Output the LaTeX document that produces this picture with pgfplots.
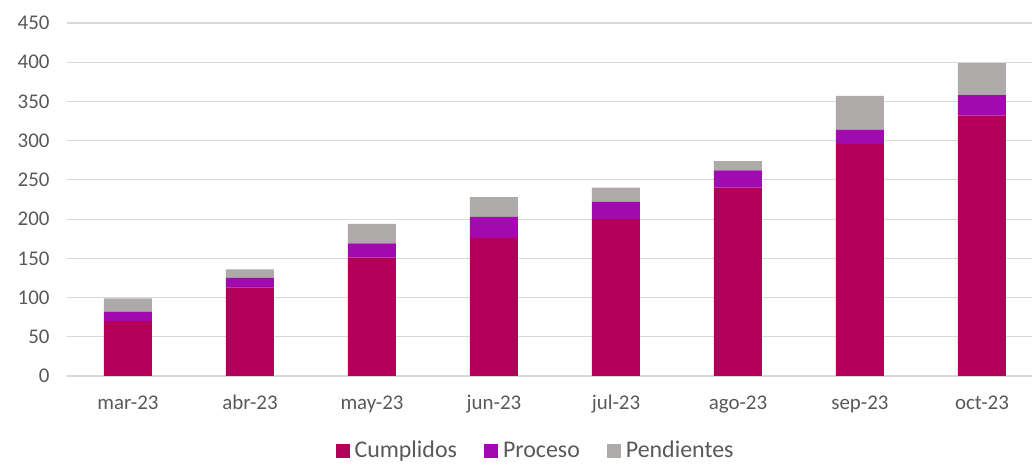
\documentclass[border=0pt]{standalone}
\usepackage{pgfplots}
\pgfplotsset{compat=1.18}
\usepackage{fontspec}
\setmainfont{Carlito}
\definecolor{cRed}{HTML}{B5005A}
\definecolor{cPur}{HTML}{A10AAE}
\definecolor{cGry}{HTML}{AEAAAA}
\definecolor{cTxt}{HTML}{595959}
\definecolor{cGrid}{HTML}{D9D9D9}
\begin{document}
\begin{tikzpicture}
\useasboundingbox (0,0) rectangle (1032bp,465bp);
\begin{axis}[
  at={(67bp,89bp)}, anchor=south west,
  scale only axis, width=965bp, height=353bp,
  ybar stacked, bar width=48bp,
  xmin=-0.5, xmax=7.41, ymin=0, ymax=450,
  ytick={0,50,...,450},
  xtick=data,
  xticklabels={mar-23,abr-23,may-23,jun-23,jul-23,ago-23,sep-23,oct-23},
  axis line style={draw=none},
  x axis line style={draw=none},
  ymajorgrids, grid style={cGrid, line width=1.2pt},
  major tick length=0pt,
  tick label style={font=\fontsize{21}{21}\selectfont, text=cTxt},
  /pgf/number format/assume math mode=true,
  yticklabel style={xshift=-14bp, anchor=east},
  xticklabel style={text height=15bp, text depth=5bp, yshift=-15bp},
  legend style={at={(0.485,-0.213)}, anchor=center, draw=none, legend columns=-1,
    font=\fontsize{24}{24}\selectfont, text=cTxt, inner sep=0pt,
    nodes={text height=17bp, text depth=5bp, inner sep=1bp},
    /tikz/every odd column/.append style={column sep=4bp},
    /tikz/every even column/.append style={column sep=26bp}},
  legend image code/.code={\fill[#1] (0bp,-7bp) rectangle (14bp,7bp);},
]
\addplot[fill=cRed, draw=none] coordinates {(0,70) (1,113) (2,151) (3,176) (4,200) (5,240) (6,296) (7,332)};
\addplot[fill=cPur, draw=none] coordinates {(0,12) (1,12) (2,18) (3,27) (4,22) (5,22) (6,18) (7,26)};
\addplot[fill=cGry, draw=none] coordinates {(0,17) (1,11) (2,25) (3,25) (4,18) (5,12) (6,43) (7,41)};
\legend{Cumplidos,Proceso,Pendientes}
\end{axis}
\end{tikzpicture}
\end{document}
